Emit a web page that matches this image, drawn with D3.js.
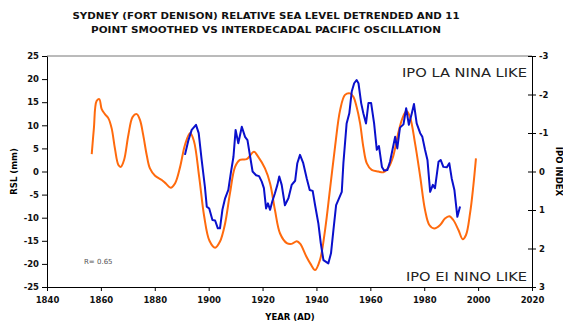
<!DOCTYPE html>
<html>
<head>
<meta charset="utf-8">
<script src="https://cdnjs.cloudflare.com/ajax/libs/d3/7.8.5/d3.min.js"></script>
<style>
  body { margin: 0; background: #fff; }
  svg text { font-family: "DejaVu Sans", Verdana, sans-serif; }
</style>
</head>
<body>
<div id="chart"></div>
<script>
// title lines
const titleLines = [
  "SYDNEY (FORT DENISON) RELATIVE SEA LEVEL DETRENDED AND 11",
  "POINT SMOOTHED VS INTERDECADAL PACIFIC OSCILLATION"
];

// IPO index (right axis, inverted)
const ipoYears = [1856.6, 1857.4, 1858.4, 1859.4, 1860.3, 1861.5, 1862.8, 1864, 1865.2, 1866.5,
  1867.4, 1868.6, 1870.2, 1871.8, 1873.3, 1874.5, 1875.7, 1877, 1878.2, 1880.1,
  1882.6, 1884.2, 1885.9, 1887.5, 1889.4, 1891.2, 1893.1, 1894.5, 1896.5, 1898.3,
  1900.3, 1902.4, 1904.2, 1906.1, 1907.9, 1909.8, 1911.6, 1914.1, 1916.8, 1918.4,
  1920.9, 1922.8, 1924.6, 1926.5, 1929, 1930.8, 1932.7, 1934, 1936.2, 1937.8,
  1939.5, 1941.3, 1943.2, 1945, 1946.9, 1948.8, 1950.6, 1952.5, 1953.7, 1954.9,
  1956.2, 1957.4, 1958.7, 1960.5, 1963, 1964.8, 1966.7, 1968.5, 1970.2, 1971.9,
  1973.4, 1974.7, 1976.6, 1978.5, 1980.3, 1981.9, 1983.7, 1985.9, 1987.7, 1989.3,
  1990.8, 1992.7, 1994.3, 1995.5, 1997, 1998.2, 1999.2];
const ipoValues = [-0.45, -1.12, -1.83, -1.88, -1.62, -1.49, -1.38, -1.12, -0.60, -0.17,
  -0.12, -0.30, -0.95, -1.42, -1.49, -1.34, -0.95, -0.43, -0.08, 0.11,
  0.22, 0.32, 0.42, 0.31, -0.12, -0.69, -1.00, -0.80, 0.15, 1.15,
  1.80, 1.98, 1.82, 1.35, 0.57, -0.12, -0.30, -0.32, -0.51, -0.38,
  -0.08, 0.31, 1.0, 1.61, 1.86, 1.88, 1.81, 1.88, 2.2, 2.4,
  2.56, 2.30, 1.52, 0.48, -0.64, -1.60, -1.99, -2.03, -1.94, -1.68,
  -1.25, -0.64, -0.21, -0.04, 0.0, 0.02, -0.10, -0.40, -0.95, -1.38,
  -1.57, -1.42, -0.73, 0.13, 1.0, 1.39, 1.48, 1.39, 1.22, 1.16,
  1.26, 1.52, 1.76, 1.65, 1.09, 0.39, -0.34];

// relative sea level, mm (left axis)
const rslYears = [1891.2, 1892.5, 1893.7, 1895.3, 1896.3, 1897.4, 1898.6, 1899.3, 1900.2, 1901.4,
  1902.4, 1903.4, 1904.2, 1905.1, 1906.1, 1907.3, 1908.2, 1909.2, 1910, 1911,
  1912.3, 1913.5, 1914.4, 1915.4, 1916.3, 1917.6, 1918.7, 1919.7, 1920.5, 1921.3,
  1922, 1922.8, 1923.6, 1924.6, 1925.5, 1926.2, 1927.1, 1928.3, 1929.6, 1930.8,
  1932.1, 1932.9, 1933.9, 1935.1, 1936.4, 1937.5, 1938.6, 1939.5, 1940.7, 1941.6,
  1942.6, 1944.4, 1945.4, 1946.3, 1947.3, 1948.1, 1949.4, 1950, 1951.2, 1952.2,
  1953.1, 1954, 1954.9, 1955.6, 1956.6, 1957.4, 1958.4, 1959.3, 1960.3, 1961.4,
  1962.4, 1963.2, 1964.3, 1965.1, 1966.3, 1967.3, 1969.2, 1970, 1971, 1972.3,
  1973.3, 1974.3, 1975.4, 1976.2, 1977.2, 1978.5, 1979.3, 1980.3, 1981.2, 1982.2,
  1983.2, 1984, 1985.3, 1986.1, 1987.1, 1988.4, 1989.3, 1990.2, 1991.2, 1992.3,
  1993.3];
const rslValues = [3.6, 6.8, 9.0, 10.1, 8.3, 2.5, -3.3, -7.6, -8.0, -10.5,
  -10.6, -12.3, -12.3, -8.3, -5.8, -4.0, -0.4, 3.2, 9.0, 6.1,
  9.7, 7.5, 6.8, 3.2, 0.0, -0.8, -1.0, -2.2, -3.6, -8.0,
  -6.9, -8.3, -6.5, -4.7, -2.9, -1.1, -2.9, -7.3, -5.8, -2.9,
  -2.0, 1.8, 3.6, 1.8, -1.5, -4.0, -4.2, -7.3, -11.2, -15.5,
  -19.2, -19.9, -17.7, -12.7, -7.3, -6.2, -4.4, 1.8, 10.4, 12.6,
  17.3, 19.1, 19.8, 19.1, 14.8, 12.6, 10.4, 14.8, 14.8, 10.4,
  4.7, 5.5, 1.0, 0.2, 0.3, 2.1, 7.5, 5.0, 9.5, 10.2,
  13.7, 10.1, 12.6, 14.6, 10.4, 8.3, 7.5, 4.7, 2.5, -4.4,
  -2.9, -3.6, 2.1, 2.5, 1.0, 0.9, 1.8, -1.5, -4.0, -9.8,
  -7.6];

const xTicks = d3.range(1840, 2021, 20);
const rslTicks = d3.range(-25, 26, 5);
const ipoTicks = d3.range(-3, 4, 1);

const width = 563, height = 325;
const plot = { left: 47, right: 532, top: 56, bottom: 287 };

const svg = d3.select("#chart").append("svg")
  .attr("width", width)
  .attr("height", height);

const x = d3.scaleLinear().domain([1840, 2020]).range([plot.left, plot.right]);
const yL = d3.scaleLinear().domain([-25, 25]).range([plot.bottom, plot.top]);
const yR = d3.scaleLinear().domain([-3, 3]).range([plot.top, plot.bottom]);

// title
svg.append("g").selectAll("text")
  .data(titleLines)
  .join("text")
  .attr("x", 266)
  .attr("y", (d, i) => 19 + i * 14)
  .attr("text-anchor", "middle")
  .attr("font-size", 9.5)
  .attr("font-weight", "bold")
  .attr("fill", "#111")
  .attr("textLength", (d, i) => i === 0 ? 387 : 350)
  .attr("lengthAdjust", "spacingAndGlyphs")
  .text(d => d);

// top border
svg.append("line")
  .attr("x1", plot.left).attr("x2", plot.right)
  .attr("y1", plot.top).attr("y2", plot.top)
  .attr("stroke", "#777").attr("stroke-width", 1);

// axes
const styleAxis = g => {
  g.selectAll(".domain").attr("stroke", "#000");
  g.selectAll(".tick line").attr("stroke", "#000");
  g.selectAll(".tick text")
    .attr("font-family", "DejaVu Sans, Verdana, sans-serif")
    .attr("font-size", 8.5)
    .attr("font-weight", "bold")
    .attr("fill", "#111");
};
const plain = d => String(d);

svg.append("g")
  .attr("transform", `translate(${plot.left},0)`)
  .call(d3.axisLeft(yL).tickValues(rslTicks).tickFormat(plain).tickSize(5).tickSizeOuter(0).tickPadding(3))
  .call(styleAxis);

svg.append("g")
  .attr("transform", `translate(0,${plot.bottom})`)
  .call(d3.axisBottom(x).tickValues(xTicks).tickFormat(plain).tickSize(4).tickSizeOuter(0).tickPadding(6))
  .call(styleAxis);

const rAxis = svg.append("g")
  .attr("transform", `translate(${plot.right},0)`)
  .call(d3.axisRight(yR).tickValues(ipoTicks).tickFormat(plain).tickSize(4).tickSizeOuter(0).tickPadding(3))
  .call(styleAxis);
rAxis.selectAll(".tick line").attr("x1", -4);

// axis titles
svg.append("text")
  .attr("transform", `translate(17,${(plot.top + plot.bottom) / 2}) rotate(-90)`)
  .attr("text-anchor", "middle")
  .attr("font-size", 8.5)
  .attr("font-weight", "bold")
  .text("RSL (mm)");

svg.append("text")
  .attr("transform", `translate(556,${(plot.top + plot.bottom) / 2}) rotate(90)`)
  .attr("text-anchor", "middle")
  .attr("font-size", 8.5)
  .attr("font-weight", "bold")
  .text("IPO INDEX");

svg.append("text")
  .attr("x", 290).attr("y", 320)
  .attr("text-anchor", "middle")
  .attr("font-size", 8.5)
  .attr("font-weight", "bold")
  .text("YEAR (AD)");

// annotations
svg.append("text")
  .attr("x", 527).attr("y", 77)
  .attr("text-anchor", "end")
  .attr("font-size", 12.5)
  .attr("fill", "#222")
  .attr("textLength", 125)
  .attr("lengthAdjust", "spacingAndGlyphs")
  .text("IPO LA NINA LIKE");

svg.append("text")
  .attr("x", 527).attr("y", 281)
  .attr("text-anchor", "end")
  .attr("font-size", 12.5)
  .attr("fill", "#222")
  .attr("textLength", 121)
  .attr("lengthAdjust", "spacingAndGlyphs")
  .text("IPO EI NINO LIKE");

svg.append("text")
  .attr("x", 84).attr("y", 264)
  .attr("font-size", 7)
  .attr("fill", "#555")
  .text("R= 0.65");

// lines
const ipoData = ipoYears.map((yr, i) => ({ yr, v: ipoValues[i] }));
const rslData = rslYears.map((yr, i) => ({ yr, v: rslValues[i] }));

svg.append("path")
  .datum(ipoData)
  .attr("fill", "none")
  .attr("stroke", "#FF6A0D")
  .attr("stroke-width", 2)
  .attr("d", d3.line().x(d => x(d.yr)).y(d => yR(d.v)).curve(d3.curveCatmullRom));

svg.append("path")
  .datum(rslData)
  .attr("fill", "none")
  .attr("stroke", "#0A10CC")
  .attr("stroke-width", 2)
  .attr("stroke-linejoin", "round")
  .attr("d", d3.line().x(d => x(d.yr)).y(d => yL(d.v)));
</script>
</body>
</html>
